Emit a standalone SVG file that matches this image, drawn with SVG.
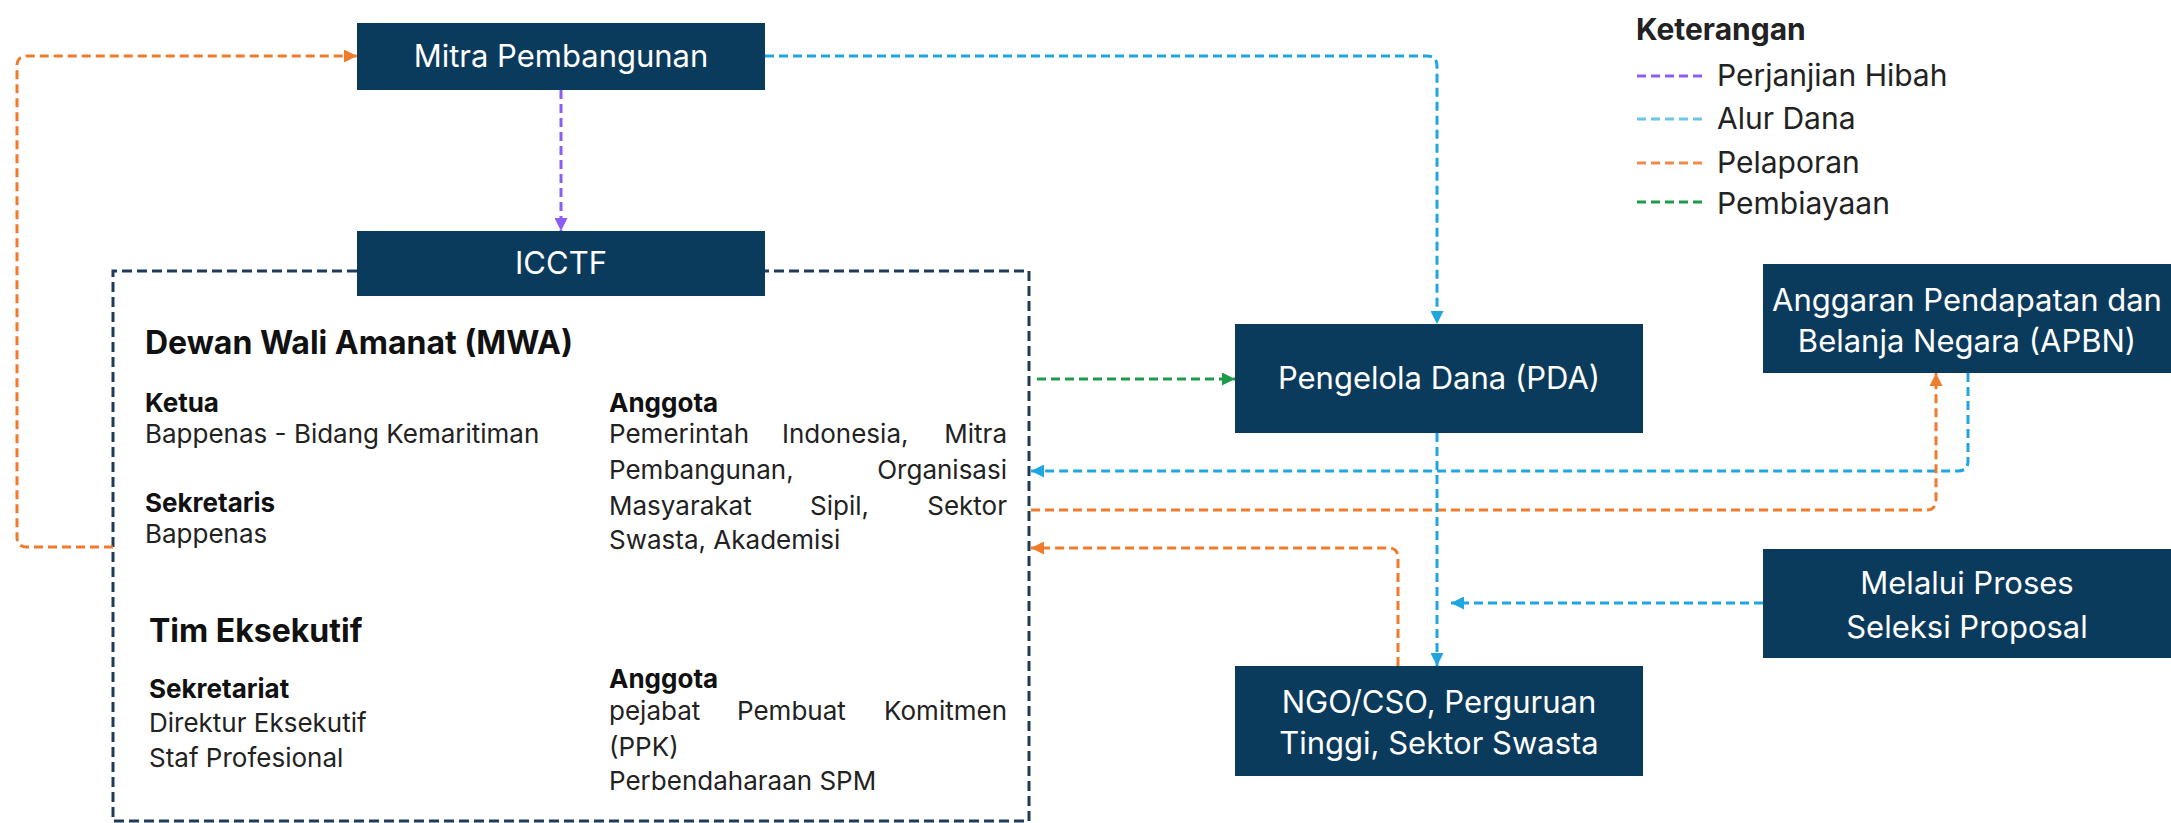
<svg xmlns="http://www.w3.org/2000/svg" width="2171" height="823" viewBox="0 0 2171 823">
<style>
.box{fill:#0b3b5c}
.bt{font-family:Inter,"Liberation Sans",sans-serif;font-size:31px;fill:#ffffff;text-anchor:middle}
.h1{font-family:Inter,"Liberation Sans",sans-serif;font-size:32px;font-weight:700;fill:#111111}
.h2{font-family:Inter,"Liberation Sans",sans-serif;font-size:26px;font-weight:700;fill:#111111}
.tx{font-family:Inter,"Liberation Sans",sans-serif;font-size:26px;fill:#222222}
.e{text-anchor:end}
.lg{font-family:Inter,"Liberation Sans",sans-serif;font-size:30px;fill:#222222}
.c{fill:none;stroke-width:3;stroke-dasharray:9 5}
.or{stroke:#f07b2c}
.pu{stroke:#8b5cf6}
.cy{stroke:#1fa6e0}
.gr{stroke:#1e9a4b}
.frame{fill:none;stroke:#1f3b5a;stroke-width:3;stroke-dasharray:10 5}
</style>
<defs>
<marker id="aor" viewBox="0 0 10 10" refX="10" refY="5" markerWidth="13" markerHeight="13" markerUnits="userSpaceOnUse" orient="auto"><path d="M0,0 L10,5 L0,10 z" fill="#f07b2c"/></marker>
<marker id="apu" viewBox="0 0 10 10" refX="10" refY="5" markerWidth="13" markerHeight="13" markerUnits="userSpaceOnUse" orient="auto"><path d="M0,0 L10,5 L0,10 z" fill="#8b5cf6"/></marker>
<marker id="acy" viewBox="0 0 10 10" refX="10" refY="5" markerWidth="13" markerHeight="13" markerUnits="userSpaceOnUse" orient="auto"><path d="M0,0 L10,5 L0,10 z" fill="#1fa6e0"/></marker>
<marker id="agr" viewBox="0 0 10 10" refX="10" refY="5" markerWidth="13" markerHeight="13" markerUnits="userSpaceOnUse" orient="auto"><path d="M0,0 L10,5 L0,10 z" fill="#1e9a4b"/></marker>
</defs>
<rect width="2171" height="823" fill="#ffffff"/>

<g id="icctf-frame">
<path class="frame" d="M357,271 H113 V821 H1029 V271 H765"/>
</g>

<g id="connectors">
<path class="c or" d="M113,547 H27 Q17,547 17,537 V66 Q17,56 27,56 H357" marker-end="url(#aor)"/>
<path class="c pu" d="M561,90 V231" marker-end="url(#apu)"/>
<path class="c cy" d="M765,56 H1427 Q1437,56 1437,66 V324" marker-end="url(#acy)"/>
<path class="c gr" d="M1037,379 H1235" marker-end="url(#agr)"/>
<path class="c cy" d="M1968,373 V461 Q1968,471 1958,471 H1031" marker-end="url(#acy)"/>
<path class="c or" d="M1031,510 H1926 Q1936,510 1936,500 V373" marker-end="url(#aor)"/>
<path class="c cy" d="M1437,433 V666" marker-end="url(#acy)"/>
<path class="c or" d="M1398,666 V558 Q1398,548 1388,548 H1031" marker-end="url(#aor)"/>
<path class="c cy" d="M1763,603 H1451" marker-end="url(#acy)"/>
</g>

<g id="mitra">
<rect class="box" x="357" y="23" width="408" height="67"/>
<text class="bt" x="561" y="67">Mitra Pembangunan</text>
</g>

<g id="icctf">
<rect class="box" x="357" y="231" width="408" height="65"/>
<text class="bt" x="561" y="274">ICCTF</text>
</g>

<g id="mwa">
<text class="h1" x="145" y="354">Dewan Wali Amanat (MWA)</text>
<text class="h2" x="145" y="412">Ketua</text>
<text class="tx" x="145" y="443">Bappenas - Bidang Kemaritiman</text>
<text class="h2" x="145" y="512">Sekretaris</text>
<text class="tx" x="145" y="543">Bappenas</text>
<text class="h2" x="609" y="412">Anggota</text>
<text class="tx" x="609" y="443">Pemerintah</text>
<text class="tx" x="782" y="443">Indonesia,</text>
<text class="tx e" x="1007" y="443">Mitra</text>
<text class="tx" x="609" y="479">Pembangunan,</text>
<text class="tx e" x="1007" y="479">Organisasi</text>
<text class="tx" x="609" y="515">Masyarakat</text>
<text class="tx" x="810" y="515">Sipil,</text>
<text class="tx e" x="1007" y="515">Sektor</text>
<text class="tx" x="609" y="549">Swasta, Akademisi</text>
</g>

<g id="tim-eksekutif">
<text class="h1" x="149" y="642">Tim Eksekutif</text>
<text class="h2" x="149" y="698">Sekretariat</text>
<text class="tx" x="149" y="732">Direktur Eksekutif</text>
<text class="tx" x="149" y="767">Staf Profesional</text>
<text class="h2" x="609" y="688">Anggota</text>
<text class="tx" x="609" y="720">pejabat</text>
<text class="tx" x="737" y="720">Pembuat</text>
<text class="tx e" x="1007" y="720">Komitmen</text>
<text class="tx" x="609" y="756">(PPK)</text>
<text class="tx" x="609" y="790">Perbendaharaan SPM</text>
</g>

<g id="pda">
<rect class="box" x="1235" y="324" width="408" height="109"/>
<text class="bt" x="1439" y="389">Pengelola Dana (PDA)</text>
</g>

<g id="apbn">
<rect class="box" x="1763" y="264" width="408" height="109"/>
<text class="bt" x="1967" y="311">Anggaran Pendapatan dan</text>
<text class="bt" x="1967" y="352">Belanja Negara (APBN)</text>
</g>

<g id="seleksi">
<rect class="box" x="1763" y="549" width="408" height="109"/>
<text class="bt" x="1967" y="594">Melalui Proses</text>
<text class="bt" x="1967" y="638">Seleksi Proposal</text>
</g>

<g id="ngo">
<rect class="box" x="1235" y="666" width="408" height="110"/>
<text class="bt" x="1439" y="713">NGO/CSO, Perguruan</text>
<text class="bt" x="1439" y="754">Tinggi, Sektor Swasta</text>
</g>

<g id="legend">
<text class="lg" x="1636" y="40" font-weight="700" fill="#111111" font-size="31">Keterangan</text>
<line class="c pu" x1="1637" y1="76" x2="1707" y2="76" stroke-dasharray="10 5"/>
<text class="lg" x="1717" y="86">Perjanjian Hibah</text>
<line class="c" stroke="#6ec6e6" x1="1637" y1="119" x2="1707" y2="119" stroke-dasharray="10 5"/>
<text class="lg" x="1717" y="129">Alur Dana</text>
<line class="c" stroke="#ef8a4a" x1="1637" y1="163" x2="1707" y2="163" stroke-dasharray="10 5"/>
<text class="lg" x="1717" y="173">Pelaporan</text>
<line class="c gr" x1="1637" y1="202" x2="1707" y2="202" stroke-dasharray="10 5"/>
<text class="lg" x="1717" y="214">Pembiayaan</text>
</g>
</svg>
